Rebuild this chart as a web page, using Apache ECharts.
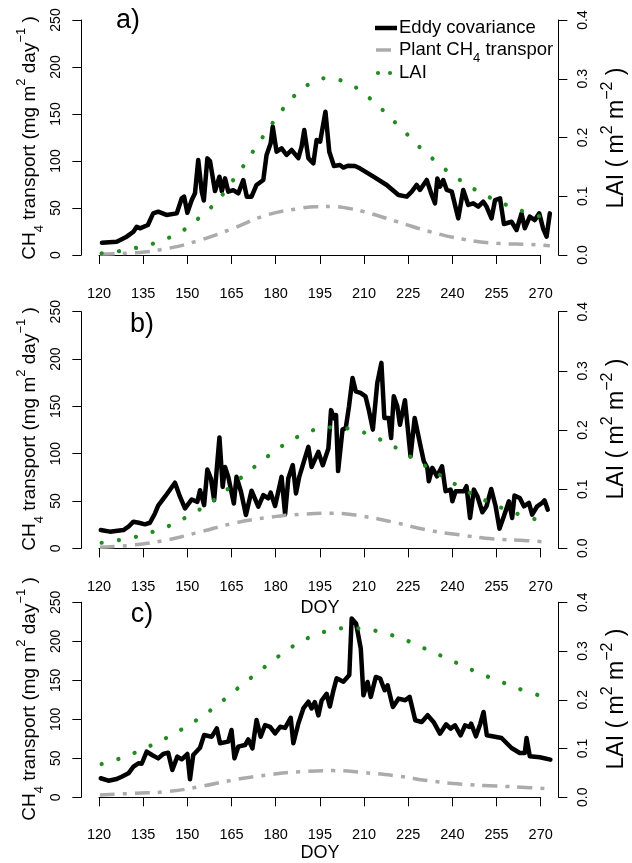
<!DOCTYPE html>
<html><head><meta charset="utf-8">
<script src="https://cdn.jsdelivr.net/npm/echarts@6/dist/echarts.min.js"></script>
<style>html,body{margin:0;padding:0;background:#fff}#c{width:632px;height:863px}</style>
</head><body><div id="c"></div><script>
// ---------------- data ----------------
const doyTicks = [120,135,150,165,180,195,210,225,240,255,270];
const ch4Ticks = [0,50,100,150,200,250];
const laiTicks = [0.0,0.1,0.2,0.3,0.4];
const panelLabels = ['a)','b)','c)'];

// Eddy covariance CH4 flux [DOY, mg m-2 day-1]
const ecA = [[121,13],[126,14.2],[129.4,19.5],[131.7,24.8],[132.8,30.1],[133.9,28.4],[136.6,31.9],[138.4,44.3],[140.1,46.1],[142.9,42.6],[146.4,44.3],[148.1,60.3],[148.9,62.1],[150,45],[151.5,58.5],[152.6,65.6],[153.7,101],[154.9,67.4],[155.6,58],[156.8,102.8],[157.7,100],[159.4,68],[160.9,83.3],[161.7,68],[162.8,81.5],[163.9,67.4],[165.6,69],[167.3,65.6],[169,79.8],[170.2,62],[171.8,62],[173.5,74.5],[175.8,79.8],[176.9,106.4],[178.3,118.8],[179,136.5],[180.3,109.9],[182,113.5],[183.7,106.4],[185.4,111.7],[187.7,103],[188.8,115.2],[189.7,133],[191.1,103],[192.8,97.5],[193.9,122.3],[195.1,120.6],[196.9,152.5],[198.2,109.9],[198.8,111.7],[199.8,94.7],[201.8,95.7],[203,93],[204.5,95],[206.9,94.7],[208.6,92.2],[213.2,83.3],[217.7,74.5],[221.7,63.8],[224.5,62.1],[226.2,67.4],[227.9,74.5],[229,69.2],[231.3,79.8],[233,63.8],[234.1,55],[234.9,81.5],[235.8,72.7],[236.9,79.8],[238.1,69.2],[239.8,67.4],[242,39],[243.7,69.2],[245.4,53.2],[247.1,55],[248.8,51.5],[250.5,56.7],[251.6,51.5],[253.3,39],[254.5,58.5],[256.2,60.3],[257.5,33],[260.1,35.4],[261.8,26.6],[263.5,44.3],[264.6,28.4],[266.3,40.8],[268,37.2],[269.5,44.3],[270.8,28.4],[272,19.5],[273.1,44.3]];
const ecB = [[120.6,19.3],[123.7,17.6],[128.3,19.3],[130,22.8],[131.7,28.1],[133.5,27],[135.6,25.3],[137.3,27],[139,36.8],[140.1,45],[142.4,54.5],[145.8,69.3],[147.5,54.5],[149.2,42.1],[151.5,51.6],[153.4,49.1],[154.3,61.4],[155.7,45.6],[156.8,83.3],[158,73.8],[159.1,50.9],[160.9,117.2],[162,64.9],[162.8,86],[163.9,75.5],[165.8,47.3],[166.7,75.5],[168.2,60],[169.9,35.2],[171.8,60.9],[174.1,44],[175.8,56.3],[177.5,52.8],[178.3,58.8],[179.8,44.7],[182,75.5],[183.2,36],[184.3,74],[185.8,88],[186.9,58],[188,75.5],[191.1,107.2],[192.2,86],[194.5,101.9],[196,87.8],[197.9,105.4],[198.8,146],[199.9,137.2],[200.5,140.8],[201.2,81.6],[202.7,125.4],[203.8,127.1],[204.9,150],[206.1,180],[207.2,165.9],[208.8,164.2],[210.5,160.6],[211.6,146.5],[213,125.4],[214.5,174.7],[215.9,195.9],[216.9,137.7],[218.4,137.7],[219.2,116.5],[220.1,160.6],[221.3,150],[222.2,130.6],[223.9,156.4],[225.8,97.3],[227.2,137.7],[229.2,107.8],[230.3,92],[231.5,85],[232,70.9],[233.2,85],[234.8,76.1],[236.5,86.7],[237.7,60.3],[239.4,62],[240,49.7],[241.1,60.3],[243.9,60.3],[244.8,65.6],[246,32.1],[247.3,62],[248.5,55],[250.2,38.1],[251.6,44.4],[253.2,62.7],[254.7,44.4],[256,20.8],[257.5,33.8],[259.2,49.7],[260.3,32.1],[261.1,55.7],[262.9,53.2],[264.3,44.4],[266,47.9],[267.1,35.6],[268.8,44.4],[270.5,47.9],[271.3,50.7],[272.4,40.8]];
const ecC = [[120.6,24.4],[123.2,21.3],[126,23.4],[127.7,26.4],[130,30.7],[131.7,39.3],[133.4,43.6],[134.5,43],[136.2,58.5],[138,54.2],[140.1,49.9],[141.8,55.5],[143.5,57.2],[144.9,35],[146.6,52.1],[148.1,48.7],[150,55.5],[150.9,23],[152,54.2],[154.3,63.6],[155.7,79.8],[158.3,77.7],[160,88.4],[161.1,69.2],[163.9,71.4],[165,86.3],[166,49.9],[167.3,64.9],[169.6,67],[170.7,74.3],[172.1,62.7],[173.5,99],[174.9,77.7],[176.4,92.6],[178.1,90.4],[179.8,81.9],[181.5,90.4],[183.2,89],[185.1,101.9],[186,69.2],[187.7,94.7],[189.4,113.9],[191.1,122.5],[192.2,113.9],[193.3,122],[194.5,105],[195.6,124.1],[197.3,132.6],[198.4,116.4],[199.6,136.8],[200.7,152.5],[203,148.2],[205,156.8],[205.8,229.2],[207.3,222.8],[208.9,190.8],[209.8,130.8],[211.2,147.9],[212.3,128.7],[214,154.3],[215.5,152.1],[217,137.2],[218,143.6],[219.8,115.8],[221.7,126.5],[224,124.4],[225.5,128.7],[227.4,98.8],[229.6,96.6],[231.6,105.2],[233.6,96.6],[235.8,81.6],[237.9,93.6],[239.4,88],[240.9,92.3],[242.8,79.5],[244.3,92.3],[245.8,90.1],[246.4,94.4],[248,78.2],[249.5,94.4],[250.6,109.4],[251.7,79.5],[254,78],[256.7,76],[260.1,63.2],[262.9,56.8],[264.6,56.8],[265.2,76],[266.3,52.5],[269.7,51.3],[273.3,48.3]];

// Plant-mediated CH4 transport [DOY, mg m-2 day-1]
const plantA = [[120.3,1],[131.7,2.3],[143,6.9],[154.3,15.8],[165.6,28.4],[177,42.5],[188.3,49.6],[193.9,51.4],[199.6,51.5],[204,50],[209.9,46.1],[221.2,35.5],[232.5,24.8],[243.8,16.7],[255.1,12.4],[266.3,11.2],[273.1,9.9]];
const plantB = [[120.3,1.1],[131.7,3.5],[143,8.8],[154.3,17.3],[165.6,26.4],[177,32.4],[188.3,35.9],[199.6,37],[208.8,34.2],[220.1,27.5],[231.4,19.4],[242.7,14.1],[254,9.9],[265.3,8.1],[271.5,6.7]];
const plantC = [[120.3,2.9],[131.7,5.1],[143,7.3],[154.3,13.7],[165.6,22.2],[177,28.6],[188.3,32.9],[199.6,34.2],[209.8,31.7],[221.1,27.4],[232.4,21],[243.7,16.7],[255,14.5],[266.3,12.4],[273.1,10.7]];

// LAI [DOY, m2 m-2]
const laiA = [[120.9,0.003],[126.8,0.0064],[132.6,0.0122],[138.4,0.0194],[143.9,0.0298],[149.2,0.0438],[153.8,0.0624],[158.3,0.0822],[162.2,0.1043],[165.6,0.1277],[169.1,0.152],[172.4,0.177],[175.7,0.2013],[179.1,0.2256],[182.6,0.2494],[186.6,0.2723],[191.2,0.2904],[196.6,0.3008],[202.6,0.2966],[207.7,0.2837],[212.4,0.2648],[216.8,0.2445],[221,0.2234],[225.2,0.2026],[229.3,0.1816],[233.8,0.1618],[238.3,0.143],[243.1,0.1259],[248.1,0.1101],[253.3,0.0965],[258.7,0.0845],[264.4,0.0738],[269.9,0.0653]];
const laiB = [[120.9,0.0094],[126.8,0.0139],[132.6,0.0195],[138.3,0.028],[143.9,0.0381],[149.3,0.0517],[154.3,0.0658],[159.3,0.0827],[163.9,0.1008],[168.4,0.12],[173,0.1386],[177.6,0.1566],[182.5,0.1741],[187.5,0.1886],[192.9,0.2],[198.7,0.2045],[204.7,0.2026],[210.4,0.195],[215.8,0.1832],[221.2,0.1691],[226.1,0.1539],[231.2,0.1381],[236.3,0.1222],[241.4,0.107],[246.5,0.0923],[251.8,0.0794],[257.2,0.0675],[262.7,0.0573],[268.4,0.0488]];
const laiC = [[120.9,0.0683],[126.6,0.0786],[132.2,0.0915],[137.5,0.1059],[143,0.1222],[148.1,0.1394],[153.2,0.1586],[158,0.179],[162.6,0.201],[167.1,0.2235],[171.8,0.2461],[176.4,0.268],[181.1,0.2899],[186,0.3104],[191.2,0.3275],[196.7,0.3398],[202.4,0.3467],[208.4,0.3467],[214.3,0.3411],[220,0.3315],[225.5,0.3192],[231,0.3042],[236.4,0.2898],[241.8,0.2747],[247.2,0.2597],[252.6,0.2461],[258.2,0.2331],[263.7,0.2202],[269.4,0.2093]];

const legendNames = ['Eddy covariance', 'Plant CH{sub|4} transpor', 'LAI'];
const ylabLeft = 'CH{sub|4} transport (mg m{sup|2} day{sup|\u22121} )';
const ylabRight = 'LAI ( m{sup|2} m{sup|\u22122} )';
const xlab = 'DOY';

// ---------------- layout / style ----------------
const FONT = '"Liberation Sans", Arial, Helvetica, sans-serif';
// top = pixel of the 250 tick, height = pixels from 250 to 0
const panels = [
  {top: 20,    height: 235,   ec: ecA, plant: plantA, lai: laiA, mid: 138, label: [128, 21], doy: null},
  {top: 311.7, height: 236.6, ec: ecB, plant: plantB, lai: laiB, mid: 429, label: [142, 325], doy: 608},
  {top: 602.3, height: 195,   ec: ecC, plant: plantC, lai: laiC, mid: 699, label: [142, 615], doy: 853}
];
const X0 = doyTicks[0], X1 = doyTicks[doyTicks.length - 1];
const Y1 = ch4Ticks[ch4Ticks.length - 1], L1 = laiTicks[laiTicks.length - 1];
const EXT = 0.04;                       // R style 4% axis extension
const GL = 99, GW = 441.7;              // pixel span of DOY 120..270
const pxPerDay = GW / (X1 - X0);
const xPad = (X1 - X0) * EXT;           // days
const YOFF = xPad * pxPerDay;           // pixels

const grids = [], xAxes = [], yAxes = [], series = [], graphics = [];
const axisCommon = {
  axisLine: {show: true, lineStyle: {color: '#000', width: 1}},
  axisTick: {show: true, length: 9, inside: false, lineStyle: {color: '#000', width: 1}},
  splitLine: {show: false}
};
function richFor(size) {
  return {
    n: {fontSize: size, fontFamily: FONT, color: '#000', lineHeight: size + 12},
    sub: {fontSize: Math.round(size * 0.7), fontFamily: FONT, color: '#000', verticalAlign: 'bottom', lineHeight: Math.round(size * 0.95)},
    sup: {fontSize: Math.round(size * 0.7), fontFamily: FONT, color: '#000', verticalAlign: 'top', lineHeight: Math.round(size * 0.95)}
  };
}
function wrapN(s) {
  return s.split(/(\{(?:sub|sup)\|[^}]*\})/).filter(t => t.length).map(t => t.startsWith('{') ? t : '{n|' + t + '}').join('');
}

const n = panels.length;
panels.forEach((p, i) => {
  const pxPerUnit = p.height / Y1;
  const yPadPx = Y1 * EXT * pxPerUnit;
  // display grid (axes only)
  grids.push({left: GL, width: GW, top: p.top, height: p.height});
  xAxes.push(Object.assign({}, axisCommon, {
    type: 'value', gridIndex: i, position: 'bottom', offset: yPadPx,
    min: X0, max: X1, interval: 15,
    axisLabel: {color: '#000', fontSize: 14.5, fontFamily: FONT, margin: 22, interval: 0, showMinLabel: true, showMaxLabel: true}
  }));
  yAxes.push(Object.assign({}, axisCommon, {
    type: 'value', gridIndex: i, position: 'left', offset: YOFF,
    min: 0, max: Y1, interval: 50,
    axisLabel: {color: '#000', fontSize: 14, fontFamily: FONT, rotate: 90, margin: 18, showMinLabel: true, showMaxLabel: true}
  }));
  yAxes.push(Object.assign({}, axisCommon, {
    type: 'value', gridIndex: i, position: 'right', offset: YOFF,
    min: 0, max: L1, interval: 0.1,
    axisLabel: {color: '#000', fontSize: 14, fontFamily: FONT, rotate: 90, margin: 18, showMinLabel: true, showMaxLabel: true,
      formatter: v => v.toFixed(1)}
  }));
});
panels.forEach((p, i) => {
  const pxPerUnit = p.height / Y1;
  const yPadPx = Y1 * EXT * pxPerUnit;
  // data grid = full R plot region (extended ranges)
  grids.push({left: GL - YOFF, width: GW + 2 * YOFF, top: p.top - yPadPx, height: p.height + 2 * yPadPx});
  xAxes.push({type: 'value', gridIndex: n + i, show: false, min: X0 - xPad, max: X1 + xPad, splitLine: {show: false}});
  yAxes.push({type: 'value', gridIndex: n + i, show: false, min: -Y1 * EXT, max: Y1 * (1 + EXT), splitLine: {show: false}});
  yAxes.push({type: 'value', gridIndex: n + i, show: false, min: -L1 * EXT, max: L1 * (1 + EXT), splitLine: {show: false}});
  const xi = n + i, yl = 2 * n + 2 * i, yr = 2 * n + 2 * i + 1;
  series.push({type: 'line', name: 'Eddy covariance', xAxisIndex: xi, yAxisIndex: yl, data: p.ec,
    symbol: 'none', clip: false, animation: false, z: 2,
    lineStyle: {color: '#000', width: 4.5, join: 'round', cap: 'round'}});
  series.push({type: 'line', name: 'Plant CH4 transport', xAxisIndex: xi, yAxisIndex: yl, data: p.plant,
    symbol: 'none', clip: false, animation: false, smooth: true, z: 3,
    lineStyle: {color: '#ABABAB', width: 3.5, type: [15, 8, 4, 8], cap: 'butt'}});
  series.push({type: 'line', name: 'LAI', xAxisIndex: xi, yAxisIndex: yr, data: p.lai,
    symbol: 'none', clip: false, animation: false, smooth: true, z: 4,
    lineStyle: {color: '#228B22', width: 4.2, type: [0.1, 17.3], cap: 'round'}});

  graphics.push({type: 'text', x: 30, y: p.mid, rotation: Math.PI / 2,
    style: {text: wrapN(ylabLeft), rich: richFor(19), align: 'center', verticalAlign: 'middle', fill: '#000', font: '19px ' + FONT}});
  graphics.push({type: 'text', x: 617, y: p.mid, rotation: Math.PI / 2,
    style: {text: wrapN(ylabRight), rich: richFor(23), align: 'center', verticalAlign: 'middle', fill: '#000', font: '23px ' + FONT}});
  graphics.push({type: 'text', x: p.label[0], y: p.label[1],
    style: {text: panelLabels[i], align: 'center', verticalAlign: 'middle', fill: '#000', font: '27px ' + FONT}});
  if (p.doy) {
    graphics.push({type: 'text', x: 320, y: p.doy,
      style: {text: xlab, align: 'center', verticalAlign: 'middle', fill: '#000', font: '18px ' + FONT}});
  }
});

// legend (panel a)
graphics.push({type: 'line', shape: {x1: 375, y1: 28, x2: 397, y2: 28}, style: {stroke: '#000', lineWidth: 4.5}});
graphics.push({type: 'line', shape: {x1: 376, y1: 50, x2: 391, y2: 50}, style: {stroke: '#ABABAB', lineWidth: 3.5}});
graphics.push({type: 'circle', shape: {cx: 378, cy: 73, r: 2.1}, style: {fill: '#228B22'}});
graphics.push({type: 'circle', shape: {cx: 390, cy: 73, r: 2.1}, style: {fill: '#228B22'}});
legendNames.forEach((t, k) => {
  graphics.push({type: 'text', x: 399, y: [27.5, 50, 73][k],
    style: {text: wrapN(t), rich: richFor(18.5), align: 'left', verticalAlign: 'middle', fill: '#000', font: '18.5px ' + FONT}});
});

const chart = echarts.init(document.getElementById('c'), null, {renderer: 'canvas'});
chart.setOption({
  backgroundColor: '#fff',
  animation: false,
  grid: grids, xAxis: xAxes, yAxis: yAxes, series: series,
  graphic: graphics
});
</script></body></html>
